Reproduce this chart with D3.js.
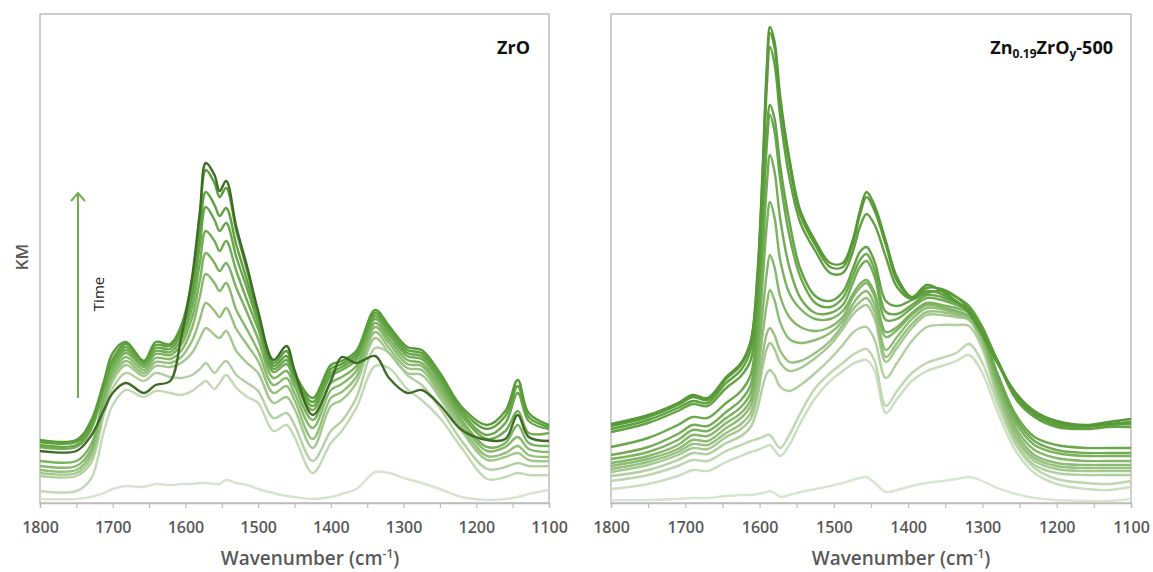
<!DOCTYPE html>
<html>
<head>
<meta charset="utf-8">
<script src="https://cdn.jsdelivr.net/npm/d3@7"></script>
<style>
  body { margin: 0; background: #fff; }
  text { font-family: "Open Sans", sans-serif; }
</style>
</head>
<body>
<svg id="chart" width="1153" height="572"></svg>
<script>
var zroWave = [1800, 1750, 1730, 1712, 1700, 1682, 1657, 1641, 1621, 1606, 1591, 1580, 1572, 1560, 1553, 1544, 1530, 1515, 1500, 1479, 1461, 1450, 1425, 1400, 1385, 1365, 1339, 1320, 1295, 1275, 1250, 1220, 1185, 1160, 1143, 1128, 1100];

// ZrO spectra, earliest (lightest) first
var zroL0 = [4, 4, 6, 10, 14, 17, 16, 19, 18, 19, 19, 20, 20, 19, 19, 23, 20, 18, 14, 10, 7, 6, 4, 6, 9, 14, 31, 30, 24, 20, 14, 6, 3, 4, 6, 9, 13];
var zroL2 = [12, 12, 24, 72, 98, 113, 106, 112, 110, 108, 112, 118, 122, 114, 120, 128, 115, 106, 100, 72, 78, 66, 30, 60, 72, 95, 137, 135, 114, 103, 85, 55, 24, 26, 30, 28, 28];
var zroL1 = [27, 27, 40, 89, 115, 130, 122, 130, 126, 125, 128, 134, 140, 130, 136, 142, 128, 120, 112, 85, 90, 78, 42, 72, 82, 105, 155, 150, 128, 118, 95, 62, 34, 36, 40, 37, 37];
var zroM4 = [30, 30, 45, 95, 122, 138, 127, 137, 136, 140, 150, 165, 175, 168, 165, 172, 152, 140, 130, 100, 106, 94, 55, 97, 103, 120, 165, 150, 130, 128, 105, 72, 43, 46, 50, 43, 42];
var zroM3 = [33, 33, 49, 98, 126, 142, 130, 141, 140, 146, 162, 184, 200, 192, 186, 195, 174, 158, 142, 110, 117, 103, 64, 105, 111, 126, 171, 155, 135, 133, 109, 76, 47, 50, 57, 48, 46];
var zroM2 = [37, 37, 53, 102, 130, 146, 133, 145, 144, 152, 175, 207, 229, 220, 212, 220, 193, 173, 152, 118, 125, 110, 75, 113, 119, 132, 176, 160, 139, 137, 113, 80, 52, 56, 66, 54, 51];
var zroM1 = [42, 42, 58, 107, 134, 150, 136, 149, 148, 158, 185, 223, 250, 240, 232, 240, 215, 190, 164, 125, 132, 117, 83, 120, 126, 137, 180, 164, 143, 140, 117, 83, 56, 60, 78, 60, 57];
var zroT4 = [56, 56, 73, 114, 138, 153, 138, 152, 151, 163, 195, 241, 272, 262, 252, 262, 232, 202, 174, 131, 139, 122, 93, 127, 133, 143, 184, 168, 147, 144, 121, 87, 64, 72, 92, 70, 70];
var zroT3 = [58, 58, 76, 117, 141, 156, 140, 155, 154, 168, 205, 259, 296, 283, 272, 280, 246, 214, 180, 134, 143, 125, 97, 130, 136, 146, 187, 171, 150, 147, 124, 90, 68, 80, 110, 82, 74];
var zroT2 = [61, 61, 79, 120, 144, 159, 142, 158, 157, 172, 212, 271, 311, 298, 287, 295, 258, 222, 185, 137, 147, 128, 101, 134, 139, 149, 190, 174, 153, 150, 127, 93, 74, 87, 117, 86, 76];
var zroT1 = [63, 63, 82, 122, 150, 161, 142, 161, 159, 177, 222, 288, 333, 320, 306, 315, 272, 232, 190, 140, 152, 130, 105, 138, 142, 152, 193, 177, 156, 153, 130, 96, 78, 92, 123, 90, 78];
var zroDark = [52, 52, 67, 93, 110, 120, 110, 118, 122, 165, 225, 292, 340, 328, 312, 322, 276, 236, 192, 143, 157, 133, 88, 122, 146, 140, 147, 125, 110, 113, 98, 73, 63, 64, 88, 66, 62];

var zroColors = ["#d6e4cf", "#c3d9b6", "#b3d0a2", "#a3c88e", "#94c07c", "#87b96c", "#7bb25e", "#70ac52", "#67a649", "#5fa141", "#599c3a", "#3e6c27"];

// wavenumbers for the right panel (Zn0.19ZrOy-500)
var znWave = [1800, 1750, 1710, 1690, 1670, 1645, 1625, 1612, 1603, 1596, 1590, 1586, 1580, 1572, 1560, 1545, 1525, 1505, 1488, 1475, 1465, 1456, 1445, 1430, 1415, 1395, 1375, 1355, 1335, 1318, 1300, 1280, 1255, 1230, 1200, 1160, 1130, 1100];

var znR0 = [3, 3, 4, 5, 5, 7, 8, 8, 9, 10, 11, 12, 10, 6, 8, 11, 14, 17, 20, 23, 25, 26, 20, 11, 13, 17, 20, 22, 24, 26, 22, 15, 9, 5, 3, 2, 2, 4];
var znR1 = [14, 19, 27, 33, 32, 41, 47, 51, 53, 55, 57, 58, 53, 47, 58, 80, 105, 122, 132, 139, 142, 143, 132, 90, 104, 122, 132, 137, 142, 148, 130, 92, 52, 30, 19, 14, 13, 16];
var znR2 = [22, 28, 37, 43, 42, 52, 58, 62, 64, 66, 68, 68, 62, 55, 68, 90, 115, 130, 140, 148, 152, 154, 142, 97, 112, 130, 140, 145, 150, 159, 140, 100, 58, 35, 24, 20, 19, 22];
var znR3 = [27, 33, 43, 50, 49, 60, 67, 76, 94, 116, 130, 133, 128, 116, 112, 118, 130, 144, 158, 170, 175, 176, 163, 125, 140, 162, 176, 178, 178, 177, 154, 106, 60, 38, 30, 28, 28, 28];
var znR4 = [31, 38, 48, 55, 54, 66, 74, 84, 106, 136, 155, 160, 154, 140, 132, 135, 145, 158, 174, 188, 195, 198, 184, 141, 155, 175, 188, 188, 186, 183, 159, 111, 64, 42, 34, 32, 32, 32];
var znR5 = [34, 41, 51, 59, 58, 70, 79, 90, 115, 148, 170, 175, 168, 152, 141, 142, 150, 162, 178, 193, 201, 205, 191, 146, 160, 179, 191, 191, 188, 184, 161, 114, 67, 45, 37, 35, 35, 35];
var znR6 = [37, 44, 54, 63, 62, 75, 85, 97, 128, 168, 200, 213, 203, 180, 164, 160, 163, 170, 182, 198, 208, 212, 198, 153, 166, 184, 195, 194, 190, 186, 163, 117, 71, 48, 40, 38, 38, 38];
var znR7 = [40, 47, 58, 68, 67, 80, 90, 103, 140, 190, 232, 248, 236, 206, 186, 176, 172, 176, 186, 205, 215, 220, 206, 166, 173, 188, 198, 196, 192, 187, 165, 120, 75, 53, 45, 42, 42, 42];
var znR8 = [44, 51, 63, 73, 72, 85, 96, 110, 153, 220, 280, 301, 286, 242, 210, 194, 184, 184, 192, 208, 219, 223, 210, 171, 176, 190, 200, 198, 195, 190, 168, 124, 80, 58, 50, 47, 47, 47];
var znR9 = [48, 56, 69, 78, 77, 91, 103, 118, 168, 246, 320, 348, 332, 283, 236, 205, 190, 190, 198, 219, 236, 242, 226, 183, 184, 195, 205, 203, 198, 192, 170, 127, 84, 62, 53, 50, 50, 50];
var znR10 = [56, 65, 78, 86, 85, 100, 112, 128, 184, 272, 360, 388, 372, 322, 268, 226, 200, 196, 205, 226, 243, 249, 233, 191, 189, 198, 208, 206, 200, 194, 172, 130, 88, 66, 58, 55, 55, 55];
var znR11 = [71, 80, 92, 99, 97, 115, 127, 143, 196, 282, 372, 398, 385, 336, 282, 234, 207, 202, 211, 233, 251, 256, 241, 202, 197, 203, 210, 212, 206, 197, 176, 142, 104, 86, 76, 74, 76, 76];
var znR12 = [74, 83, 95, 102, 100, 120, 133, 153, 214, 314, 420, 456, 440, 385, 326, 280, 252, 230, 230, 250, 276, 289, 278, 246, 216, 204, 212, 209, 201, 193, 173, 143, 106, 88, 78, 76, 78, 79];
var znR13 = [77, 86, 98, 106, 103, 124, 138, 160, 224, 326, 432, 470, 456, 400, 340, 288, 258, 236, 236, 258, 288, 306, 292, 258, 222, 205, 215, 214, 206, 194, 172, 143, 108, 90, 80, 77, 79, 81];
var znR14 = [79, 88, 100, 108, 105, 126, 140, 162, 228, 332, 440, 476, 462, 405, 345, 292, 262, 240, 240, 262, 292, 311, 297, 262, 226, 206, 218, 212, 202, 190, 168, 140, 110, 92, 82, 78, 81, 84];

var znColors = ["#d7e6cf", "#cadfbf", "#bdd7af", "#b0cf9f", "#a4c890", "#99c282", "#8ebc75", "#84b769", "#7ab25e", "#71ac54", "#69a84b", "#62a344", "#5e9f3e", "#5a9c3a", "#579937"];

var xTicks = [1800, 1750, 1700, 1650, 1600, 1550, 1500, 1450, 1400, 1350, 1300, 1250, 1200, 1150, 1100];

var svg = d3.select("#chart");
var plotTop = 14, plotBottom = 503;

var panels = [
  { x0: 40, x1: 549, wave: zroWave, colors: zroColors,
    series: [zroL0, zroL2, zroL1, zroM4, zroM3, zroM2, zroM1, zroT4, zroT3, zroT2, zroT1, zroDark],
    titleX: 310 },
  { x0: 611, x1: 1131, wave: znWave, colors: znColors,
    series: [znR0, znR1, znR2, znR3, znR4, znR5, znR6, znR7, znR8, znR9, znR10, znR11, znR12, znR13, znR14],
    titleX: 901 }
];

panels.forEach(function(p) {
  var x = d3.scaleLinear().domain([1800, 1100]).range([p.x0, p.x1]);
  var y = d3.scaleLinear().domain([0, 489]).range([plotBottom, plotTop]);

  // frame
  svg.append("rect")
    .attr("x", p.x0).attr("y", plotTop)
    .attr("width", p.x1 - p.x0).attr("height", plotBottom - plotTop)
    .attr("fill", "none")
    .attr("stroke", "#bdbdbd")
    .attr("stroke-width", 1.5);

  var line = d3.line()
    .x(function(d) { return x(d[0]); })
    .y(function(d) { return y(d[1]); })
    .curve(d3.curveCatmullRom.alpha(0.5));

  p.series.forEach(function(s, i) {
    var pts = p.wave.map(function(w, j) { return [w, s[j]]; });
    svg.append("path")
      .datum(pts)
      .attr("d", line)
      .attr("fill", "none")
      .attr("stroke", p.colors[i])
      .attr("stroke-width", 2.4)
      .attr("stroke-linejoin", "round");
  });

  // x axis
  var axis = d3.axisBottom(x)
    .tickValues(xTicks)
    .tickFormat(function(d) { return d % 100 === 0 ? d : ""; })
    .tickSize(5)
    .tickPadding(14);

  var gx = svg.append("g")
    .attr("transform", "translate(0," + plotBottom + ")")
    .call(axis);
  gx.select(".domain").attr("stroke", "#bdbdbd").attr("stroke-width", 1.5);
  gx.selectAll(".tick line").attr("stroke", "#bdbdbd").attr("stroke-width", 1.2);
  gx.selectAll(".tick text")
    .attr("fill", "#595959")
    .style("font-family", "'Open Sans', sans-serif")
    .style("font-size", "16px")
    .style("font-weight", 600);

  // axis title
  var t = svg.append("text")
    .attr("x", p.titleX).attr("y", 565)
    .attr("text-anchor", "middle")
    .attr("fill", "#595959")
    .style("font-size", "19px")
    .style("font-weight", 600);
  t.append("tspan").text("Wavenumber (cm");
  t.append("tspan").attr("dy", -7).style("font-size", "12px").text("-1");
  t.append("tspan").attr("dy", 7).text(")");
});

// y label
svg.append("text")
  .attr("transform", "translate(21,257) rotate(-90)")
  .attr("text-anchor", "middle")
  .attr("dominant-baseline", "central")
  .attr("fill", "#595959")
  .style("font-size", "17px")
  .style("font-weight", 600)
  .text("KM");

// time arrow
svg.append("line")
  .attr("x1", 78).attr("y1", 398)
  .attr("x2", 78).attr("y2", 193)
  .attr("stroke", "#6fae4a")
  .attr("stroke-width", 2);

svg.append("path")
  .attr("d", "M71,201 L78,193 L85,201")
  .attr("fill", "none")
  .attr("stroke", "#6fae4a")
  .attr("stroke-width", 2);

svg.append("text")
  .attr("transform", "translate(98,294) rotate(-90)")
  .attr("text-anchor", "middle")
  .attr("dominant-baseline", "central")
  .attr("fill", "#222")
  .style("font-size", "15px")
  .text("Time");

// panel labels
svg.append("text")
  .attr("x", 530).attr("y", 54)
  .attr("text-anchor", "end")
  .attr("fill", "#111")
  .style("font-size", "18px")
  .style("font-weight", 700)
  .text("ZrO");

var zl = svg.append("text")
  .attr("x", 1113).attr("y", 54)
  .attr("text-anchor", "end")
  .attr("fill", "#111")
  .style("font-size", "18px")
  .style("font-weight", 700);
zl.append("tspan").text("Zn");
zl.append("tspan").attr("dy", 4).style("font-size", "12px").text("0.19");
zl.append("tspan").attr("dy", -4).text("ZrO");
zl.append("tspan").attr("dy", 4).style("font-size", "12px").text("y");
zl.append("tspan").attr("dy", -4).text("-500");
</script>
</body>
</html>
